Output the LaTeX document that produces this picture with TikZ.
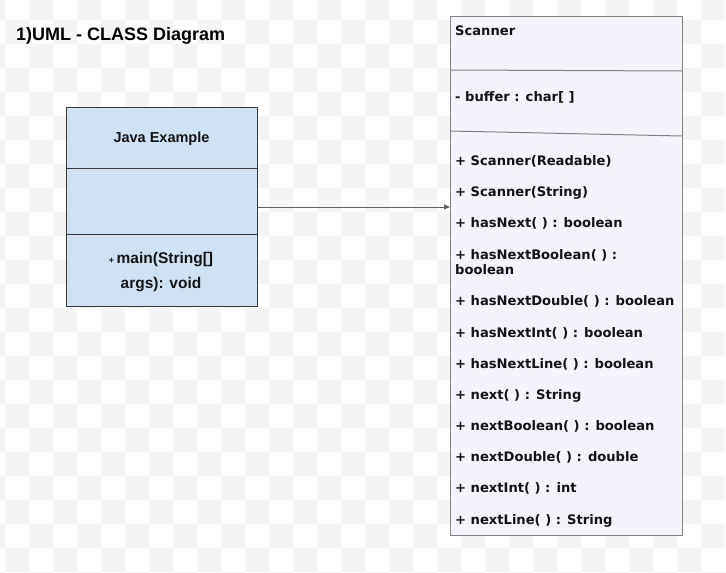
\documentclass[tikz,border=0pt]{standalone}
\usepackage{fontspec}
\setmainfont{Liberation Sans}
\newfontfamily\vfont{DejaVu Sans}
\usetikzlibrary{arrows.meta}
\definecolor{chk}{RGB}{245,245,245}
\definecolor{javafill}{RGB}{207,226,243}
\definecolor{javaline}{RGB}{54,57,61}
\definecolor{scanfill}{RGB}{243,243,252}
\definecolor{scanline}{RGB}{130,130,130}
\definecolor{txt}{RGB}{20,20,20}
\tikzset{
  javabox/.style={draw=javaline, fill=javafill, line width=0.9pt, inner sep=0pt},
  scanbox/.style={draw=scanline, fill=scanfill, line width=1pt, inner sep=0pt},
  member/.style={anchor=mid west, inner sep=0pt, yshift=-3pt, text=txt, font=\vfont\bfseries\fontsize{13.1}{15}\selectfont, align=left},
  jtext/.style={inner sep=0pt, yshift=-2pt, text=txt, font=\bfseries\fontsize{15.5}{18}\selectfont},
  link/.style={draw=javaline!80, line width=0.9pt, -{Triangle[length=6pt,width=5pt]}}
}
\begin{document}
\begin{tikzpicture}[x=1pt,y=-1pt]
\useasboundingbox (0,0) rectangle (726,573);
\fill[white] (0,0) rectangle (726,573);
% transparency checkerboard
\foreach \c in {-1,...,29} {
  \foreach \r in {-1,...,23} {
    \pgfmathtruncatemacro\p{mod(\c+\r+2,2)}
    \ifnum\p=0
      \fill[chk] ({5+24*\c},{20+24*\r}) rectangle ({29+24*\c},{44+24*\r});
    \fi
  }
}
% title
\node[anchor=base west, inner sep=0pt, font=\bfseries\fontsize{18}{21}\selectfont] (title) at (16,40) {1)UML - CLASS Diagram};

% Java Example class
\node[javabox, anchor=north west, minimum width=191pt, minimum height=199pt] (java) at (66,107) {};
\draw[javaline, line width=0.9pt] (66,168) -- (257,168);
\draw[javaline, line width=0.9pt] (66,234) -- (257,234);
\node[jtext, font=\bfseries\fontsize{14.5}{17}\selectfont] (jname) at (161.5,137) {Java Example};
\node[jtext] (jm1) at (161,258) {{\fontsize{9}{10}\selectfont +}\,main(String[]};
\node[jtext] (jm2) at (161,283) {args): void};

% Scanner class
\node[scanbox, anchor=north west, minimum width=232pt, minimum height=519pt] (scanner) at (450,16) {};
\draw[scanline, line width=1pt] (450,70) -- (682,71);
\draw[scanline, line width=1pt] (450,131) -- (682,136);
\node[member] (sname) at (455,30) {Scanner};
\node[member] (sattr) at (455,96) {- buffer : char[ ]};
\node[member] (m1) at (455,160) {+ Scanner(Readable)};
\node[member] (m2) at (455,191) {+ Scanner(String)};
\node[member] (m3) at (455,222) {+ hasNext( ) : boolean};
\node[member, anchor=north west] (m4) at (455,246) {+ hasNextBoolean( ) :\\boolean};
\node[member] (m5) at (455,300) {+ hasNextDouble( ) : boolean};
\node[member] (m6) at (455,332) {+ hasNextInt( ) : boolean};
\node[member] (m7) at (455,363) {+ hasNextLine( ) : boolean};
\node[member] (m8) at (455,394) {+ next( ) : String};
\node[member] (m9) at (455,425) {+ nextBoolean( ) : boolean};
\node[member] (m10) at (455,456) {+ nextDouble( ) : double};
\node[member] (m11) at (455,487) {+ nextInt( ) : int};
\node[member] (m12) at (455,519) {+ nextLine( ) : String};

% association
\draw[link] (java.east) -- (java.east -| scanner.west);
\end{tikzpicture}
\end{document}
